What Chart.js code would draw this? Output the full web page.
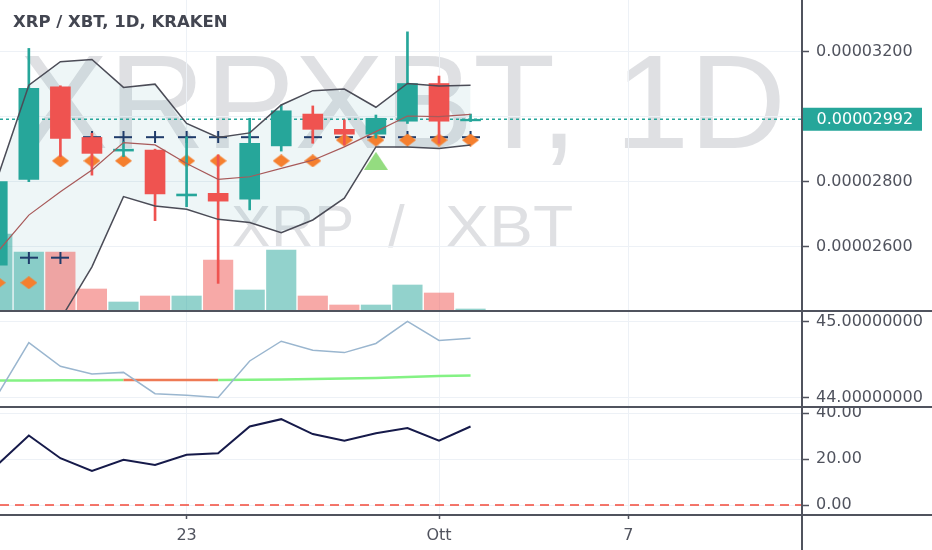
<!DOCTYPE html>
<html>
<head>
<meta charset="utf-8">
<script src="https://cdn.jsdelivr.net/npm/chart.js@4.4.1/dist/chart.umd.min.js"></script>
<style>
  html, body { margin: 0; padding: 0; background: #fff; }
  #wrap { position: relative; width: 932px; height: 550px; overflow: hidden; }
  #wrap canvas { position: absolute; left: 0; }
  .sep { position: absolute; left: 0; width: 932px; height: 2px; background: #50535e; }
  .vax { position: absolute; left: 801px; top: 0; width: 2px; height: 550px; background: #50535e; }
</style>
</head>
<body>
<div id="wrap">
  <canvas id="price" width="932" height="310" style="top:0"></canvas>
  <canvas id="osc" width="932" height="95" style="top:311px"></canvas>
  <canvas id="mom" width="932" height="143" style="top:407px"></canvas>
  <div class="sep" style="top:310px"></div>
  <div class="sep" style="top:406px"></div>
  <div class="sep" style="top:514px"></div>
  <div class="vax"></div>
</div>
<script>
// XRP/XBT giornaliero, 17 set -> 2 ott (prezzi in satoshi, 1e-8 XBT)
const days = ['17 set', '18 set', '19 set', '20 set', '21 set', '22 set', '23 set', '24 set',
              '25 set', '26 set', '27 set', '28 set', '29 set', '30 set', '1 ott', '2 ott'];
const openP  = [2543, 2807, 3092, 2936, 2894, 2897, 2756, 2764, 2746, 2910, 3008, 2961, 2946, 2986, 3102, 2987];
const highP  = [2805, 3210, 3095, 2949, 2923, 2900, 2938, 2882, 2995, 3036, 3033, 2990, 3005, 3261, 3125, 3008];
const lowP   = [2525, 2800, 2877, 2820, 2877, 2680, 2723, 2487, 2713, 2894, 2918, 2913, 2934, 2979, 2918, 2985];
const closeP = [2800, 3087, 2933, 2887, 2900, 2762, 2762, 2740, 2918, 3018, 2961, 2946, 2995, 3102, 2986, 2992];
const volume = [7.6, 5.8, 5.8, 2.1, 0.8, 1.4, 1.4, 5.0, 2.0, 6.0, 1.4, 0.5, 0.5, 2.5, 1.7, 0.1];

// bande di Bollinger
const bbUpper = [2810, 3097, 3169, 3176, 3090, 3100, 2979, 2936, 2950, 3036, 3080, 3085, 3029, 3102, 3094, 3097];
const bbBasis = [2583, 2697, 2769, 2836, 2920, 2913, 2856, 2807, 2815, 2841, 2866, 2907, 2954, 3002, 3000, 3007];
const bbLower = [2356, 2297, 2376, 2538, 2754, 2725, 2715, 2684, 2674, 2643, 2682, 2749, 2907, 2907, 2902, 2913];

// segnali
const crossMarks    = [null, 2566, 2566, 2937, 2937, 2937, 2937, 2937, 2937, 2937, 2937, 2937, 2937, 2937, 2937, 2937];
const diamondMarks  = [2489, 2489, 2864, 2864, 2864, 2864, 2864, 2864, 2864, 2864, 2864, 2928, 2928, 2928, 2928, 2928];
const triangleMarks = [null, null, null, null, null, null, null, null, null, null, null, null, 2864, null, null, null];

// pannello 2
const oscBlue  = [44.03, 44.72, 44.41, 44.31, 44.33, 44.05, 44.03, 44.00, 44.48, 44.74, 44.62, 44.59, 44.71, 45.00, 44.75, 44.78];
const oscGreen = [44.222, 44.224, 44.226, 44.228, 44.230, 44.230, 44.230, 44.230, 44.232, 44.237, 44.243, 44.250, 44.256, 44.270, 44.283, 44.288];

// pannello 3
const momentum = [17.5, 30.3, 20.4, 14.9, 19.7, 17.5, 21.9, 22.6, 34.2, 37.4, 30.9, 28.0, 31.3, 33.5, 28.0, 34.2];
const zeroLevel = 0;

// assi
const tickDays = [6, 14, 20];
const tickLabels = ['23', 'Ott', '7'];
const priceTicks = [2600, 2800, 3000, 3200];
const oscTicks = [44, 45];
const momTicks = [0, 20, 40];

const X_MIN = 0.086, X_MAX = 25.505;
const TEAL = '#26a69a', RED = '#ef5350';
const GRID = '#edf1f6', AXIS = '#50535e', TEXT = '#50535e';
const FONT = { family: 'DejaVu Sans', size: 16 };

Chart.defaults.font.family = 'DejaVu Sans';
Chart.defaults.animation = false;

const pts = arr => arr.map((v, i) => ({ x: i, y: v }));
const rising = closeP.map((c, i) => c >= openP[i]);
const candleColor = rising.map(u => u ? TEAL : RED);
const lastClose = closeP[closeP.length - 1];

function marker(w, h, draw) {
    const c = document.createElement('canvas');
    c.width = w; c.height = h;
    draw(c.getContext('2d'), w, h);
    return c;
}
const diamondImg = marker(17, 13, (g, w, h) => {
    g.fillStyle = '#f57f2e';
    g.beginPath(); g.moveTo(w / 2, 0); g.lineTo(w, h / 2); g.lineTo(w / 2, h); g.lineTo(0, h / 2); g.closePath(); g.fill();
});
const crossImg = marker(18, 12, (g, w, h) => {
    g.strokeStyle = '#1f3b6a'; g.lineWidth = 2;
    g.beginPath(); g.moveTo(0, h / 2); g.lineTo(w, h / 2); g.moveTo(w / 2, 0); g.lineTo(w / 2, h); g.stroke();
});
const triangleImg = marker(24, 18, (g, w, h) => {
    g.fillStyle = '#94dc80';
    g.beginPath(); g.moveTo(w / 2, 0); g.lineTo(w, h); g.lineTo(0, h); g.closePath(); g.fill();
});

function xScale(showLabels) {
    return {
        type: 'linear', min: X_MIN, max: X_MAX, offset: false, position: 'bottom',
        afterBuildTicks: s => { s.ticks = tickDays.map(v => ({ value: v })); },
        grid: { color: GRID, offset: false, drawTicks: showLabels, tickLength: 5, tickColor: AXIS, tickWidth: 1.5 },
        border: { display: false },
        ticks: {
            display: showLabels, font: FONT, color: TEXT, padding: 7, maxRotation: 0, autoSkip: false,
            callback: v => tickLabels[tickDays.indexOf(v)]
        },
        afterFit: s => { s.height = showLabels ? 36 : 0; s.paddingLeft = 0; s.paddingRight = 0; }
    };
}

function yScale(min, max, ticks, fmt) {
    return {
        type: 'linear', position: 'right', min: min, max: max,
        afterBuildTicks: s => { s.ticks = ticks.map(v => ({ value: v })); },
        grid: { color: GRID, tickLength: 7, tickColor: AXIS, tickWidth: 1.5 },
        border: { display: false },
        ticks: { font: FONT, color: TEXT, padding: 7, autoSkip: false, callback: fmt },
        afterFit: s => { s.width = 130; s.paddingTop = 0; s.paddingBottom = 0; }
    };
}

const quiet = { legend: { display: false }, tooltip: { enabled: false } };
const noPad = { padding: 0, autoPadding: false };

// filigrana, titolo ed etichetta dell'ultimo prezzo
const priceDecor = {
    id: 'priceDecor',
    beforeDraw(chart) {
        const ctx = chart.ctx;
        ctx.save();
        ctx.fillStyle = 'rgba(148,152,161,0.3)';
        ctx.textBaseline = 'alphabetic';
        ctx.font = '134px "Liberation Sans"';
        ctx.fillText('XRPXBT, 1D', 19, 148);
        ctx.font = '60px "Liberation Sans"';
        ctx.fillText('XRP', 231, 246.5);
        ctx.fillText('/', 388, 246.5);
        ctx.translate(445, 246.5);
        ctx.scale(1.1, 1);
        ctx.fillText('XBT', 0, 0);
        ctx.restore();
    },
    afterDraw(chart) {
        const ctx = chart.ctx;
        const right = chart.chartArea.right;
        const y = chart.scales.y.getPixelForValue(lastClose);
        ctx.save();
        ctx.fillStyle = TEAL;
        ctx.fillRect(right, y - 11.5, 120, 23);
        ctx.fillStyle = '#fff';
        ctx.font = '16px "DejaVu Sans"';
        ctx.textBaseline = 'middle';
        ctx.fillText((lastClose / 1e8).toFixed(8), right + 14.5, y + 0.5);
        ctx.fillStyle = '#434651';
        ctx.font = 'bold 16.5px "DejaVu Sans"';
        ctx.textBaseline = 'alphabetic';
        ctx.fillText('XRP / XBT, 1D, KRAKEN', 13, 26.5);
        ctx.restore();
    }
};

new Chart(document.getElementById('price'), {
    type: 'bar',
    data: {
        datasets: [
            {
                label: 'Volume', yAxisID: 'yv', data: pts(volume), grouped: false, order: 9,
                backgroundColor: rising.map(u => u ? 'rgba(38,166,154,0.5)' : 'rgba(239,83,80,0.5)'),
                barThickness: 29.5, borderWidth: 0
            },
            {
                type: 'line', label: 'Ultimo', order: 8,
                data: [{ x: X_MIN, y: lastClose }, { x: X_MAX, y: lastClose }],
                borderColor: TEAL, borderWidth: 1.5, borderDash: [3, 3], pointRadius: 0
            },
            {
                type: 'line', label: 'BB sup', data: pts(bbUpper), order: 1,
                borderColor: '#4b4c57', borderWidth: 1.5, pointRadius: 0, tension: 0,
                fill: '+1', backgroundColor: 'rgba(38,140,150,0.08)'
            },
            {
                type: 'line', label: 'BB inf', data: pts(bbLower), order: 1,
                borderColor: '#4b4c57', borderWidth: 1.5, pointRadius: 0, tension: 0
            },
            {
                type: 'line', label: 'BB base', data: pts(bbBasis), order: 1,
                borderColor: '#a85a5a', borderWidth: 1.2, pointRadius: 0, tension: 0
            },
            {
                type: 'line', label: 'Croci', data: pts(crossMarks), showLine: false, order: 6,
                pointStyle: crossImg, pointRadius: 8
            },
            {
                type: 'line', label: 'Rombi', data: pts(diamondMarks), showLine: false, order: 5,
                pointStyle: diamondImg, pointRadius: 8
            },
            {
                type: 'line', label: 'Triangoli', data: pts(triangleMarks), showLine: false, order: 5,
                pointStyle: triangleImg, pointRadius: 8
            },
            {
                label: 'Ombre', grouped: false, order: 4, borderWidth: 0, barThickness: 2,
                data: lowP.map((l, i) => ({ x: i, y: [l, highP[i]] })),
                backgroundColor: candleColor
            },
            {
                label: 'Corpi', grouped: false, order: 3, borderWidth: 0, barThickness: 20,
                data: openP.map((o, i) => ({ x: i, y: [o, closeP[i]] })),
                backgroundColor: candleColor
            }
        ]
    },
    options: {
        responsive: false,
        layout: noPad,
        plugins: Object.assign({ filler: { propagate: false, drawTime: 'beforeDatasetsDraw' } }, quiet),
        scales: {
            x: xScale(false),
            y: yScale(2405, 3359, priceTicks, v => (v / 1e8).toFixed(8)),
            yv: { type: 'linear', display: false, position: 'right', min: 0, max: 31 }
        }
    },
    plugins: [priceDecor]
});

new Chart(document.getElementById('osc'), {
    type: 'line',
    data: {
        datasets: [
            {
                data: pts(oscGreen), order: 2, borderColor: '#84f284', borderWidth: 2.5, pointRadius: 0,
                segment: { borderColor: c => oscBlue[c.p1DataIndex] < oscGreen[c.p1DataIndex] ? '#ee7a55' : undefined }
            },
            { data: pts(oscBlue), order: 1, borderColor: '#9ab6cf', borderWidth: 1.5, pointRadius: 0 }
        ]
    },
    options: {
        responsive: false,
        layout: noPad,
        plugins: quiet,
        scales: {
            x: xScale(false),
            y: yScale(43.888, 45.137, oscTicks, v => v.toFixed(8))
        }
    }
});

new Chart(document.getElementById('mom'), {
    type: 'line',
    data: {
        datasets: [
            { data: pts(momentum), order: 1, borderColor: '#161a4a', borderWidth: 2, pointRadius: 0 },
            {
                data: [{ x: X_MIN, y: zeroLevel }, { x: X_MAX, y: zeroLevel }], order: 2,
                borderColor: '#f2493b', borderWidth: 1.5, borderDash: [9, 6], pointRadius: 0
            }
        ]
    },
    options: {
        responsive: false,
        layout: noPad,
        plugins: quiet,
        scales: {
            x: xScale(true),
            y: yScale(-3.9, 42.7, momTicks, v => v.toFixed(2))
        }
    }
});
</script>
</body>
</html>
